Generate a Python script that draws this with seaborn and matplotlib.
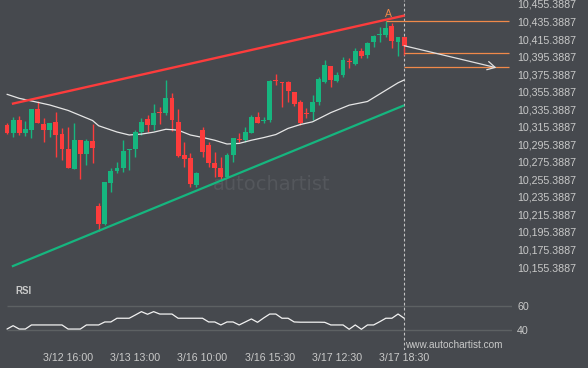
import numpy as np
import pandas as pd
import matplotlib
matplotlib.use("Agg")
import matplotlib.pyplot as plt
import seaborn as sns

# candle data (30 min bars)
opens = [10317.4, 10308.6, 10323.1, 10308.6, 10311.7, 10335.6, 10318.5, 10311.7, 10320.8, 10307.1,
         10290.0, 10266.8, 10300.3, 10284.3, 10299.1, 10225.0, 10204.5, 10251.6, 10264.9, 10268.7,
         10288.9, 10289.6, 10309.7, 10323.9, 10317.4, 10331.6, 10330.7, 10348.5, 10321.1, 10283.2,
         10280.1, 10248.9, 10311.7, 10294.6, 10273.7, 10268.0, 10258.4, 10283.2, 10300.8, 10300.3,
         10308.6, 10326.2, 10321.4, 10323.1, 10368.2, 10366.8, 10366.1, 10355.4, 10343.6, 10331.1,
         10332.5, 10344.0, 10366.8, 10384.7, 10367.6, 10374.4, 10389.9, 10386.6, 10401.8, 10397.2,
         10411.7, 10420.5, 10420.0, 10430.6, 10412.4, 10418.1]
closes = [10308.6, 10323.1, 10308.2, 10312.8, 10335.6, 10320.0, 10311.7, 10319.7, 10306.0, 10290.0,
          10268.0, 10300.3, 10284.3, 10299.5, 10291.1, 10204.5, 10252.0, 10264.9, 10268.7, 10288.1,
          10290.0, 10309.7, 10321.1, 10317.7, 10331.4, 10331.0, 10347.8, 10323.1, 10282.0, 10278.6,
          10250.1, 10262.3, 10286.9, 10273.7, 10268.0, 10258.4, 10283.2, 10302.2, 10300.0, 10309.7,
          10326.2, 10320.0, 10322.0, 10367.9, 10367.6, 10364.9, 10356.2, 10341.3, 10319.3, 10330.4,
          10344.0, 10369.8, 10385.8, 10368.7, 10374.4, 10391.5, 10389.2, 10401.8, 10396.1, 10411.2,
          10419.2, 10421.1, 10427.7, 10413.2, 10418.1, 10407.8]
highs = [10319.7, 10326.5, 10327.6, 10321.9, 10335.6, 10345.1, 10325.4, 10319.7, 10332.5, 10313.9,
         10315.4, 10319.7, 10300.3, 10301.4, 10318.5, 10228.4, 10252.7, 10268.3, 10275.5, 10300.3,
         10290.0, 10311.7, 10325.0, 10328.8, 10341.0, 10338.2, 10368.7, 10353.5, 10335.3, 10298.3,
         10285.1, 10264.1, 10315.4, 10298.3, 10286.9, 10281.2, 10285.1, 10302.2, 10307.9, 10314.7,
         10328.8, 10332.5, 10326.2, 10368.7, 10375.2, 10366.8, 10367.9, 10355.4, 10345.9, 10336.4,
         10351.6, 10372.4, 10391.5, 10384.7, 10378.2, 10395.3, 10393.4, 10404.9, 10404.9, 10412.4,
         10420.0, 10429.5, 10436.0, 10433.4, 10418.1, 10418.1]
lows = [10307.1, 10303.7, 10306.0, 10305.2, 10302.5, 10320.0, 10298.3, 10303.7, 10281.2, 10277.5,
        10268.0, 10266.8, 10256.1, 10271.7, 10274.0, 10196.8, 10203.3, 10241.3, 10263.0, 10264.1,
        10266.0, 10281.2, 10306.0, 10309.7, 10311.7, 10318.2, 10328.8, 10310.5, 10281.2, 10269.8,
        10246.3, 10246.3, 10281.2, 10269.8, 10258.4, 10254.6, 10256.6, 10275.5, 10298.3, 10298.3,
        10307.9, 10319.3, 10319.3, 10321.1, 10363.0, 10338.2, 10344.0, 10339.0, 10317.4, 10325.0,
        10323.1, 10340.2, 10364.9, 10361.1, 10366.8, 10372.4, 10382.0, 10385.8, 10393.4, 10393.4,
        10406.7, 10412.4, 10418.1, 10405.5, 10396.4, 10397.2]

# moving average (white line)
ma_x = [0, 2, 4, 7, 10, 14, 15, 18, 20, 22, 24, 26, 28, 30, 32, 34, 36, 38, 40, 42,
        44, 46, 48, 50, 53, 56, 59, 62, 64, 65]
ma_y = [10352.4, 10347.8, 10344.8, 10340.2, 10334.0, 10322.5, 10316.5, 10309.4, 10306.0, 10307.0,
        10309.2, 10312.5, 10311.5, 10306.0, 10303.2, 10300.0, 10295.7, 10296.4, 10300.0, 10303.0,
        10306.5, 10313.5, 10317.9, 10321.0, 10331.5, 10340.0, 10344.2, 10357.0, 10365.5, 10368.7]

rsi = [40.8, 43.6, 40.8, 40.8, 44.2, 44.2, 44.2, 44.2, 44.2, 44.2,
       40.8, 40.8, 40.8, 44.2, 44.2, 44.2, 46.7, 46.7, 49.8, 49.8,
       49.8, 52.5, 55.3, 53.1, 55.3, 53.3, 53.3, 53.3, 49.8, 49.8,
       49.8, 49.8, 49.8, 46.7, 46.7, 44.2, 46.7, 46.7, 44.2, 46.7,
       49.2, 46.4, 50.0, 53.3, 53.3, 49.8, 49.8, 46.7, 46.5, 46.5,
       46.5, 46.5, 46.4, 44.2, 44.2, 44.2, 40.6, 44.2, 40.6, 44.2,
       44.2, 46.9, 49.8, 49.8, 53.3, 49.8]

# pattern lines
res_x = [0.8, 65.1]
res_y = [10341.5, 10442.3]
sup_x = [0.8, 65.0]
sup_y = [10156.0, 10339.8]
resistance = 10436.0
target_levels = [10399.2, 10383.2]
arrow_end = (80.1, 10382.7)

tick_pos = [10, 21, 32, 43, 54, 65]
tick_labels = ["3/12 16:00", "3/13 13:00", "3/16 10:00", "3/16 15:30", "3/17 12:30", "3/17 18:30"]
price_ticks = [10155.3887 + 20 * k for k in range(16)]

BG = "#46494e"
TXT = "#c9c9c9"
GREEN = "#16b67f"
RED = "#fd3c3c"
ORANGE = "#f0894a"

sns.set_style("dark", {"axes.facecolor": BG, "figure.facecolor": BG})
plt.rcParams['font.family'] = ['Liberation Sans', 'DejaVu Sans']

fig = plt.figure(figsize=(5.88, 3.68), dpi=100)
ax = fig.add_axes([0, 92 / 368, 512 / 588, 276 / 368])
rx = fig.add_axes([0, 18 / 368, 512 / 588, 74 / 368])

xlim = (-7 / 6.11, 505 / 6.11)

df = pd.DataFrame({"open": opens, "high": highs, "low": lows, "close": closes})
up = df["close"] >= df["open"]
cols = np.where(up, GREEN, RED)
bottom = df[["open", "close"]].min(axis=1)
height = (df["close"] - df["open"]).abs().clip(lower=1.2)

# watermark
ax.text(33.7, 10249, "autochartist", fontsize=14, color="#54575c", ha="left", va="center",
        family="DejaVu Sans", zorder=0)

ax.vlines(df.index, df["low"], df["high"], colors=cols, lw=1, zorder=2)
ax.bar(df.index, height, bottom=bottom, width=0.8, color=cols, lw=0, zorder=3)

sns.lineplot(x=ma_x, y=ma_y, ax=ax, color="#e6e6e6", lw=0.9, zorder=2)

ax.plot(res_x, res_y, color=RED, lw=1.7, solid_capstyle="butt", zorder=4)
ax.plot(sup_x, sup_y, color=GREEN, lw=1.6, solid_capstyle="butt", zorder=4)

ax.hlines(resistance, 62.0, 82.2, color=ORANGE, lw=0.9, zorder=4)
ax.hlines(target_levels, 65, 82.2, color=ORANGE, lw=0.9, zorder=4)
ax.text(62.5, 10443.5, "A", color=ORANGE, ha="center", va="center", fontsize=7.5)

ax.annotate("", xy=arrow_end, xytext=(65, closes[-1]),
            arrowprops=dict(arrowstyle="->,head_length=0.55,head_width=0.3", color="#e0e0e0",
                            lw=0.9, shrinkA=0, shrinkB=0), zorder=5)

ax.axvline(65, color="#c4c4c4", lw=0.8, ls=(0, (2.5, 2)), zorder=1)

ax.set_xlim(*xlim)
ax.set_ylim(10145.15, 10459.95)
ax.set_xticks([])
ax.set_yticks(price_ticks, [f"{v:,.4f}" for v in price_ticks])
ax.yaxis.tick_right()
ax.tick_params(axis="y", length=0, pad=3.6, labelsize=7.7, colors=TXT)
ax.grid(False)
for s in ax.spines.values():
    s.set_visible(False)
ax.set_xlabel("")
ax.set_ylabel("")

# RSI panel
rx.hlines([40, 60], 0, xlim[1], color="#5d6163", lw=1, zorder=1)
sns.lineplot(x=list(range(len(rsi))), y=rsi, ax=rx, color="#f2f2f2", lw=0.9, zorder=3)
rx.axvline(65, color="#c4c4c4", lw=0.8, ls=(0, (2.5, 2)), zorder=1)
rx.text(1.3, 72.5, "RSI", color=TXT, fontsize=7, fontweight="bold", ha="left", va="center")
rx.text(65.1, 27.2, "www.autochartist.com", color=TXT, fontsize=7.2, ha="left", va="center")
rx.set_xlim(*xlim)
rx.set_ylim(23.33, 85)
rx.set_yticks([40, 60])
rx.yaxis.tick_right()
rx.set_xticks(tick_pos, tick_labels)
rx.tick_params(axis="y", length=0, pad=3.6, labelsize=7.7, colors=TXT)
rx.tick_params(axis="x", length=0, pad=2, labelsize=7.7, colors=TXT)
rx.grid(False)
for s in rx.spines.values():
    s.set_visible(False)
rx.set_xlabel("")
rx.set_ylabel("")

fig.savefig("out.png", dpi=100, facecolor=BG)
